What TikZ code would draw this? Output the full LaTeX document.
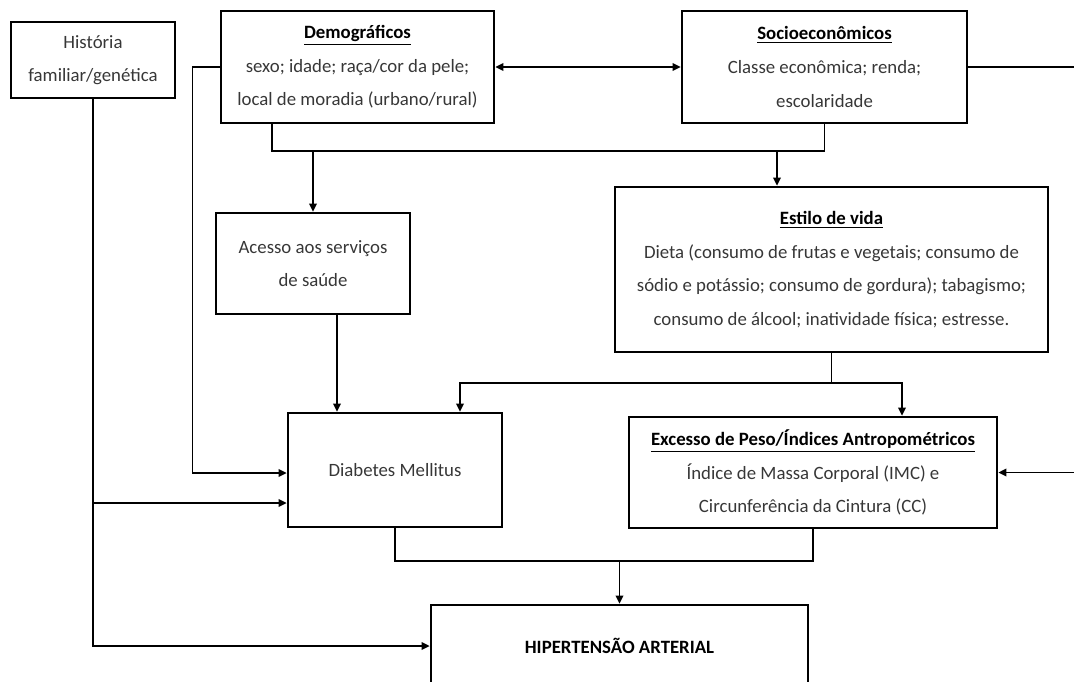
\documentclass[tikz,border=0pt]{standalone}
\usepackage{fontspec}
\setmainfont{Carlito}
\definecolor{TxtGray}{RGB}{55,55,55}
\usetikzlibrary{arrows.meta, positioning, calc}
\newcommand{\boxtitle}[1]{\textcolor{black}{\textbf{\underline{#1}}}}

\begin{document}
\begin{tikzpicture}[
    x=0.5pt, y=-0.5pt,
    box/.style={rectangle, draw, line width=1.4pt, inner sep=2pt,
                font=\fontsize{9.4}{16.8}\selectfont, text=TxtGray, align=center},
    line/.style={line width=0.75pt},
    arr/.style={line, -{Triangle[length=4pt,width=3.8pt]}},
    biarr/.style={line, {Triangle[length=4pt,width=3.8pt]}-{Triangle[length=4pt,width=3.8pt]}}
  ]
    \useasboundingbox (0,0) rectangle (1074,681);
    \clip (0,0) rectangle (1074,681);

    \node[box, minimum width=82pt, minimum height=38pt] (hist) at (93,60) {História\\familiar/genética};
    \node[box, minimum width=136.5pt, minimum height=56pt] (demog) at (357.5,67)
      {\boxtitle{Demográficos}\\sexo; idade; raça/cor da pele;\\local de moradia (urbano/rural)};
    \node[box, minimum width=142.5pt, minimum height=56pt] (socio) at (824.5,67)
      {\boxtitle{Socioeconômicos}\\Classe econômica; renda;\\escolaridade};
    \node[box, minimum width=97pt, minimum height=50.5pt] (acesso) at (313,263.5) {Acesso aos serviços\\de saúde};
    \node[box, minimum width=216.5pt, minimum height=82.5pt] (estilo) at (831.5,269.5)
      {\boxtitle{Estilo de vida}\\Dieta (consumo de frutas e vegetais; consumo de\\sódio e potássio; consumo de gordura); tabagismo;\\consumo de álcool; inatividade física; estresse.};
    \node[box, minimum width=107pt, minimum height=57pt] (diab) at (395,470) {Diabetes Mellitus};
    \node[box, minimum width=184pt, minimum height=55.5pt] (exc) at (813,472.5)
      {\boxtitle{Excesso de Peso/Índices Antropométricos}\\Índice de Massa Corporal (IMC) e\\Circunferência da Cintura (CC)};
    \node[box, minimum width=188.5pt, minimum height=41pt, text=black, font=\fontsize{9.4}{16.8}\selectfont\bfseries]
      (hiper) at (619.5,646) {HIPERTENSÃO ARTERIAL};

    \coordinate (j1) at (0,151);
    \coordinate (j2) at (0,383);
    \coordinate (j3) at (0,561);
    \coordinate (hbr) at (93,503);

    \draw[biarr] (demog.east) -- (socio.west);
    \draw[arr] (hist.south) |- (hiper.west);
    \draw[arr] (hbr) -- (hbr -| diab.west);
    \draw[arr] (demog.west) -- ++(-27,0) |- ([yshift=-1.5pt]diab.west);
    \draw[arr] (socio.east) -- ++(106,0) |- (exc.east);
    \draw[line] (demog.south -| 272,0) |- (j1 -| socio.south) -- (socio.south);
    \draw[arr] (j1 -| acesso.north) -- (acesso.north);
    \draw[arr] (j1 -| 777,0) -- (estilo.north -| 777,0);
    \draw[arr] (acesso.south -| 337,0) -- (diab.north -| 337,0);
    \draw[line] (estilo.south) -- (j2 -| estilo.south);
    \draw[arr] (j2 -| estilo.south) -| (diab.north -| 460,0);
    \draw[arr] (j2 -| estilo.south) -| (exc.north -| 902,0);
    \draw[line] (diab.south) |- (j3 -| exc.south) -- (exc.south);
    \draw[arr] (j3 -| hiper.north) -- (hiper.north);
  \end{tikzpicture}
\end{document}
